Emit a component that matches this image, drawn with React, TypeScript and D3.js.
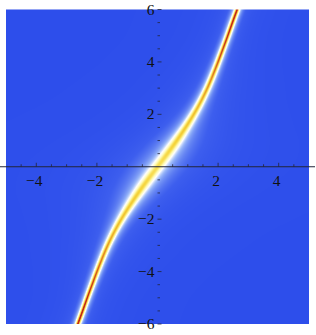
import * as d3 from "d3";
import {useEffect, useMemo, useRef} from "react";

const WIDTH = 316;
const HEIGHT = 335;
const PLOT = {left: 6, right: 309, top: 9.5, bottom: 324};

const X_DOMAIN = [-5, 5];
const Y_DOMAIN = [-6, 6];

// ridge of the density (upper half, mirrored below)
const ridgeY = [0, 0.5, 1, 1.5, 2, 2.5, 3, 3.5, 4, 4.5, 5, 5.5, 6];
const ridgeX = [0, 0.33, 0.64, 0.93, 1.2, 1.44, 1.65, 1.83, 2.0, 2.16, 2.32, 2.47, 2.63];
const ridgeWidth = [0.21, 0.2, 0.18, 0.155, 0.135, 0.12, 0.108, 0.1, 0.095, 0.09, 0.087, 0.085, 0.083];
const ridgePeak = [0.6, 0.64, 0.69, 0.73, 0.76, 0.8, 0.84, 0.88, 0.92, 0.95, 0.97, 0.99, 1];
const ridgeHalo = [0.17, 0.16, 0.14, 0.11, 0.09, 0.07, 0.06, 0.05, 0.04, 0.035, 0.03, 0.03, 0.03];

// TemperatureMap-like colour ramp
const colorStops = [0, 0.1, 0.3, 0.45, 0.62, 0.82, 0.92, 1];
const colorRange = ["#2d4eeb", "#3d5eee", "#9ab8f9", "#ffffff", "#fffbb0", "#f5d43a", "#e48428", "#c3261a"];

const xMajor = [-4, -2, 2, 4];
const yMajor = [-6, -4, -2, 2, 4, 6];
const xLabels = ["\u22124", "\u22122", "2", "4"];
const yLabels = ["\u22126", "\u22124", "\u22122", "2", "4", "6"];

const App = () => {
    const ref = useRef<SVGSVGElement>(null);

    const x = d3.scaleLinear().domain(X_DOMAIN).range([PLOT.left, PLOT.right]);
    const y = d3.scaleLinear().domain(Y_DOMAIN).range([PLOT.bottom, PLOT.top]);

    const image = useMemo(() => {
        // smooth spline through the read-off ridge samples (no kinks)
        const t = d3.scaleLinear().domain(d3.extent(ridgeY) as [number, number]).range([0, 1]).clamp(true);
        const ridge = d3.interpolateBasis(ridgeX);
        const width = d3.interpolateBasis(ridgeWidth);
        const peak = d3.interpolateBasis(ridgePeak);
        const halo = d3.interpolateBasis(ridgeHalo);
        const color = d3.scaleLinear<string>().domain(colorStops).range(colorRange)
            .interpolate(d3.interpolateRgb).clamp(true);

        const w = Math.round(PLOT.right - PLOT.left);
        const h = Math.round(PLOT.bottom - PLOT.top);
        const canvas = document.createElement("canvas");
        canvas.width = w;
        canvas.height = h;
        const ctx = canvas.getContext("2d")!;
        const img = ctx.createImageData(w, h);
        const px = d3.scaleLinear().domain([0, w]).range(X_DOMAIN);
        const py = d3.scaleLinear().domain([0, h]).range([Y_DOMAIN[1], Y_DOMAIN[0]]);
        for (let j = 0; j < h; j++) {
            const yv = py(j + 0.5);
            const ty = t(Math.abs(yv));
            const cx = Math.sign(yv) * ridge(ty);
            const wd = width(ty);
            const a = peak(ty);
            const hl = halo(ty);
            for (let i = 0; i < w; i++) {
                const dx = px(i + 0.5) - cx;
                const d = dx / wd;
                const e = dx / 1.0;
                const v = a / (1 + d * d) + hl / (1 + e * e);
                const c = d3.rgb(color(v));
                const k = (j * w + i) * 4;
                img.data[k] = c.r;
                img.data[k + 1] = c.g;
                img.data[k + 2] = c.b;
                img.data[k + 3] = 255;
            }
        }
        ctx.putImageData(img, 0, 0);
        return canvas.toDataURL();
    }, []);

    useEffect(() => {
        const svg = d3.select(ref.current);
        const g = svg.select("#axes");
        g.selectAll("*").remove();

        const y0 = y(0);
        const x0 = x(0);

        // x axis line
        g.append("line")
            .attr("x1", 0).attr("x2", 315)
            .attr("y1", y0).attr("y2", y0)
            .attr("stroke", "#22243a").attr("stroke-width", 1.2);

        const xMinor = d3.range(-4.5, 5, 0.5).filter(v => v !== 0 && !xMajor.includes(v));
        g.selectAll(".xminor").data(xMinor).join("line")
            .attr("x1", d => x(d)).attr("x2", d => x(d))
            .attr("y1", y0).attr("y2", y0 - 2.5)
            .attr("stroke", "#22243a").attr("stroke-width", 0.8);
        g.selectAll(".xmajor").data(xMajor).join("line")
            .attr("x1", d => x(d)).attr("x2", d => x(d))
            .attr("y1", y0).attr("y2", y0 - 4)
            .attr("stroke", "#22243a").attr("stroke-width", 0.8);

        const yMinor = d3.range(-5.5, 6, 0.5).filter(v => v !== 0 && !yMajor.includes(v));
        g.selectAll(".yminor").data(yMinor).join("line")
            .attr("x1", x0).attr("x2", x0 + 2.5)
            .attr("y1", d => y(d)).attr("y2", d => y(d))
            .attr("stroke", "#22243a").attr("stroke-width", 0.8);
        g.selectAll(".ymajor").data(yMajor).join("line")
            .attr("x1", x0).attr("x2", x0 + 4)
            .attr("y1", d => y(d)).attr("y2", d => y(d))
            .attr("stroke", "#22243a").attr("stroke-width", 0.8);

        g.selectAll(".xlabel").data(xMajor).join("text")
            .attr("x", d => x(d) - 2)
            .attr("y", y0 + 19.5)
            .attr("text-anchor", "middle")
            .attr("font-family", "Liberation Serif")
            .attr("font-size", 15.5)
            .attr("fill", "#111")
            .text((d, i) => xLabels[i]);

        g.selectAll(".ylabel").data(yMajor).join("text")
            .attr("x", x0 - 3)
            .attr("y", d => y(d) + 5)
            .attr("text-anchor", "end")
            .attr("font-family", "Liberation Serif")
            .attr("font-size", 15.5)
            .attr("fill", "#111")
            .text((d, i) => yLabels[i]);
    }, []);

    return (
        <svg ref={ref} width={WIDTH} height={HEIGHT}
             style={{position: "absolute", left: 0, top: 0, background: "white"}}>
            <image href={image} x={PLOT.left} y={PLOT.top}
                   width={PLOT.right - PLOT.left} height={PLOT.bottom - PLOT.top}
                   preserveAspectRatio="none"/>
            <g id="axes"/>
        </svg>
    );
};

export default App;
